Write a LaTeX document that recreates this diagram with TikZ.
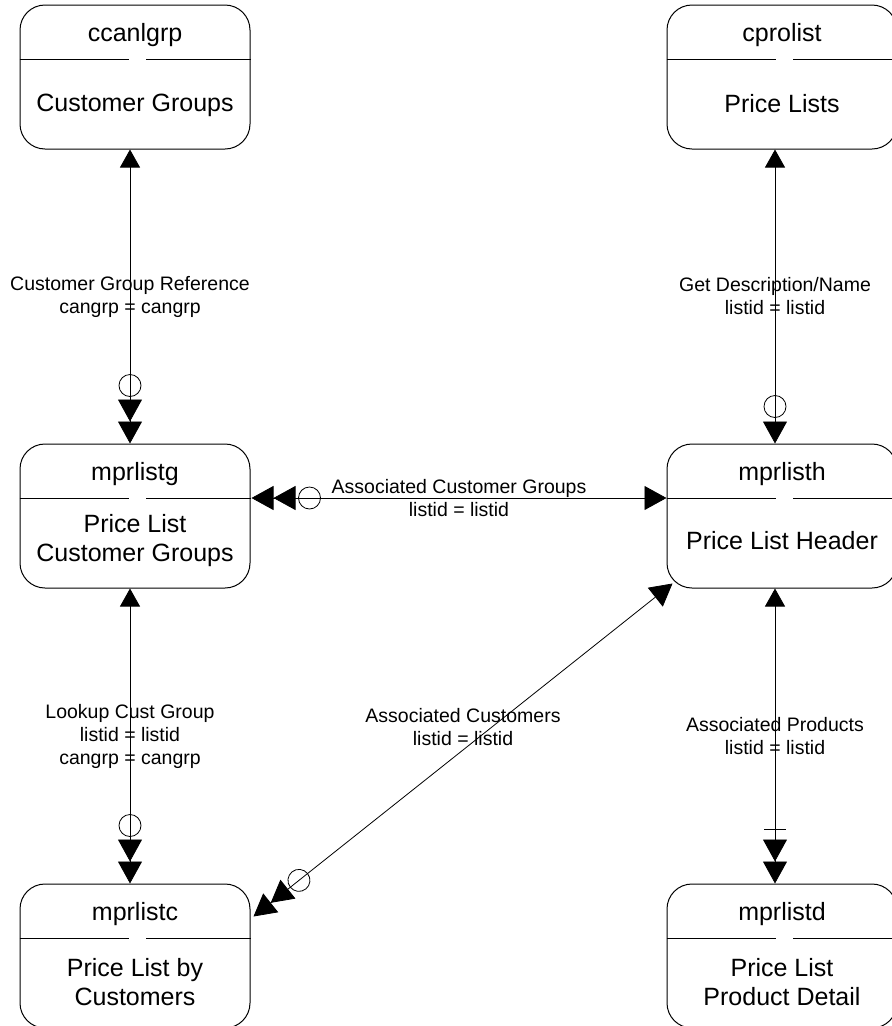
\documentclass[tikz,border=0pt]{standalone}
\usepackage{fontspec}
\setmainfont{Liberation Sans}
\usetikzlibrary{arrows.meta,calc,decorations.markings}
\newcommand\entfont{\fontsize{25}{29}\selectfont}
\newcommand\lblfont{\fontsize{19.5}{23}\selectfont}
\tikzset{
  tS/.tip={Triangle[length=18pt,width=20pt]},
  tB/.tip={Triangle[length=22pt,width=24pt]},
  ent/.style={draw, line width=1pt, rounded corners=25pt, minimum width=230pt, minimum height=144pt},
  txt/.style={font=\entfont, align=center, inner sep=0pt},
  lbl/.style={font=\lblfont, align=center, inner sep=0pt},
  rel/.style={line width=0.8pt},
  circ/.style={postaction={decorate}, decoration={markings, mark=at position #1 with {\draw[-, line width=0.8pt] (0,0) circle (11pt);}}},
  bar/.style={postaction={decorate}, decoration={markings, mark=at position #1 with {\draw[-, line width=0.8pt] (0,-11pt) -- (0,11pt);}}}
}
\begin{document}
\begin{tikzpicture}[x=1pt,y=-1pt]
\useasboundingbox (0,0) rectangle (892,1026);
% entities
\foreach \n/\p/\t/\b/\o in {cg/{(135,77)}/ccanlgrp/{Customer Groups}/101,
                            cp/{(782,77)}/cprolist/{Price Lists}/99,
                            g/{(135,516)}/mprlistg/{Price List\\Customer Groups}/97,
                            h/{(782,516)}/mprlisth/{Price List Header}/97,
                            c/{(135,956)}/mprlistc/{Price List by\\Customers}/99,
                            d/{(782,956)}/mprlistd/{Price List\\Product Detail}/99}{
  \node[ent] (\n) at \p {};
  \node[txt, anchor=base] (\n t) at ($(\n.north)+(0,37)$) {\t};
  \node[txt] (\n b) at ($(\n.north)+(0,\o)$) {\b};
  \draw[line width=0.8pt] ($(\n.north west)+(0,54.5)$) -- ($(\n.north)+(-6,54.5)$)
                          ($(\n.north)+(11,54.5)$) -- ($(\n.north east)+(0,54.5)$);
}
\coordinate (colL) at (130,0);
\coordinate (colR) at (775,0);

% relations
\draw[rel, {tS[]}-{tB[]tB[]}, circ=-58pt] (cg.south -| colL) -- (g.north -| colL)
  node[lbl, midway] (cgl) {Customer Group Reference\\cangrp = cangrp};
\draw[rel, {tS[]}-{tB[]}, circ=-37pt] (cp.south -| colR) -- (h.north -| colR)
  node[lbl, midway] (cpl) {Get Description/Name\\listid = listid};
\draw[rel, {tB[]tB[]}-{tB[]}, circ=58pt] ($(g.north east)+(1,54.5)$) -- ($(h.north west)+(0,54.5)$)
  node[lbl, midway] (ghl) {Associated Customer Groups\\listid = listid};
\draw[rel, {tS[]}-{tB[]tB[]}, circ=-58pt] (g.south -| colL) -- (c.north -| colL)
  node[lbl, midway] (gcl) {Lookup Cust Group\\listid = listid\\cangrp = cangrp};
\draw[rel, {tS[]}-{tB[]tB[]}, bar=-54pt] (h.south -| colR) -- (d.north -| colR)
  node[lbl, midway] (hdl) {Associated Products\\listid = listid};
\draw[rel, {tB[]}-{tB[]tB[]}, circ=-58pt] ($(h.south west)+(6,-5)$) -- ($(c.north east)+(3,33)$)
  node[lbl, midway, yshift=23pt] (hcl) {Associated Customers\\listid = listid};
\end{tikzpicture}
\end{document}
